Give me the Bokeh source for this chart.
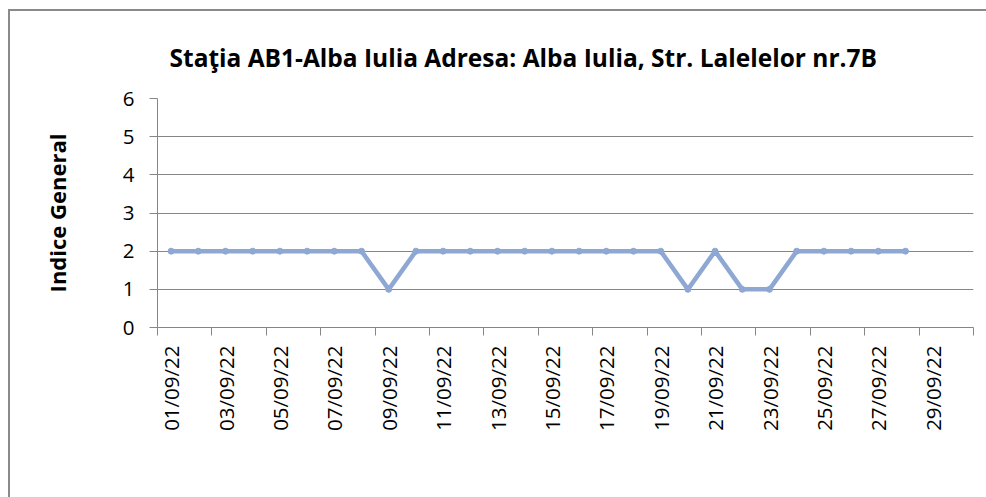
import math
from bokeh.plotting import figure
from bokeh.models import Range1d, FixedTicker, Title
from bokeh.embed import file_html
from bokeh.resources import INLINE

title_text = "Staţia AB1-Alba Iulia  Adresa: Alba Iulia, Str. Lalelelor nr.7B"
y_title = "Indice General"

dates = ["01/09/22", "02/09/22", "03/09/22", "04/09/22", "05/09/22", "06/09/22",
         "07/09/22", "08/09/22", "09/09/22", "10/09/22", "11/09/22", "12/09/22",
         "13/09/22", "14/09/22", "15/09/22", "16/09/22", "17/09/22", "18/09/22",
         "19/09/22", "20/09/22", "21/09/22", "22/09/22", "23/09/22", "24/09/22",
         "25/09/22", "26/09/22", "27/09/22", "28/09/22", "29/09/22", "30/09/22"]
values = [2, 2, 2, 2, 2, 2, 2, 2, 1, 2, 2, 2, 2, 2, 2, 2, 2, 2, 2, 1,
          2, 1, 1, 2, 2, 2, 2, 2]
y_ticks = [0, 1, 2, 3, 4, 5, 6]

FONT = "Open Sans"
GRID = "#868686"
LINE = "#8EA8D3"

p = figure(width=978, height=488, output_backend="svg", toolbar_location=None,
           x_range=Range1d(0, len(dates)), y_range=Range1d(y_ticks[0], y_ticks[-1]),
           min_border_left=147, min_border_right=15, min_border_top=87,
           min_border_bottom=172)
p.title = Title(text=title_text, align="left", offset=12,
                text_font=FONT, text_font_size="24.5px", text_font_style="bold",
                text_color="#000000", standoff=50)
p.outline_line_color = None
p.background_fill_color = "white"
p.border_fill_color = "white"
p.styles = {"margin-left": "8px", "margin-top": "9px",
            "border-left": "2px solid #8a8a8a", "border-top": "2px solid #8a8a8a",
            "box-sizing": "border-box"}

xs = [i + 0.5 for i in range(len(values))]
p.line(xs, values, line_color=LINE, line_width=4.5)
p.scatter(xs, values, size=6, fill_color=LINE, line_color=LINE)

# x axis: labels at centers of every second category, ticks between
label_pos = [i + 0.5 for i in range(0, len(dates), 2)]
tick_pos = [i for i in range(0, len(dates) + 1, 2)]
p.xaxis.ticker = FixedTicker(ticks=label_pos, minor_ticks=tick_pos)
p.xaxis.major_label_overrides = {i + 0.5: dates[i] for i in range(0, len(dates), 2)}
p.xaxis.major_label_orientation = math.pi / 2
p.xaxis.major_tick_line_color = None
p.xaxis.major_tick_out = 8
p.xaxis.major_tick_in = 0
p.xaxis.minor_tick_line_color = GRID
p.xaxis.minor_tick_out = 8
p.xaxis.minor_tick_in = 0
p.xaxis.major_label_standoff = 10
p.xgrid.grid_line_color = None

p.yaxis.ticker = FixedTicker(ticks=y_ticks)
p.yaxis.major_tick_out = 8
p.yaxis.major_tick_in = 0
p.yaxis.minor_tick_line_color = None
p.yaxis.major_tick_line_color = GRID
p.yaxis.major_label_standoff = 15
p.yaxis.axis_label = y_title
p.yaxis.axis_label_text_font = FONT
p.yaxis.axis_label_text_font_style = "bold"
p.yaxis.axis_label_text_font_size = "22px"
p.yaxis.axis_label_text_color = "#000000"
p.yaxis.axis_label_standoff = 48
p.ygrid.grid_line_color = GRID
p.ygrid.grid_line_width = 1

for ax in (p.xaxis, p.yaxis):
    ax.axis_line_color = GRID
    ax.axis_line_width = 1
    ax.major_label_text_font = FONT
    ax.major_label_text_font_size = "20.5px"
    ax.major_label_text_color = "#000000"

open("out.html", "w").write(file_html(p, INLINE))
